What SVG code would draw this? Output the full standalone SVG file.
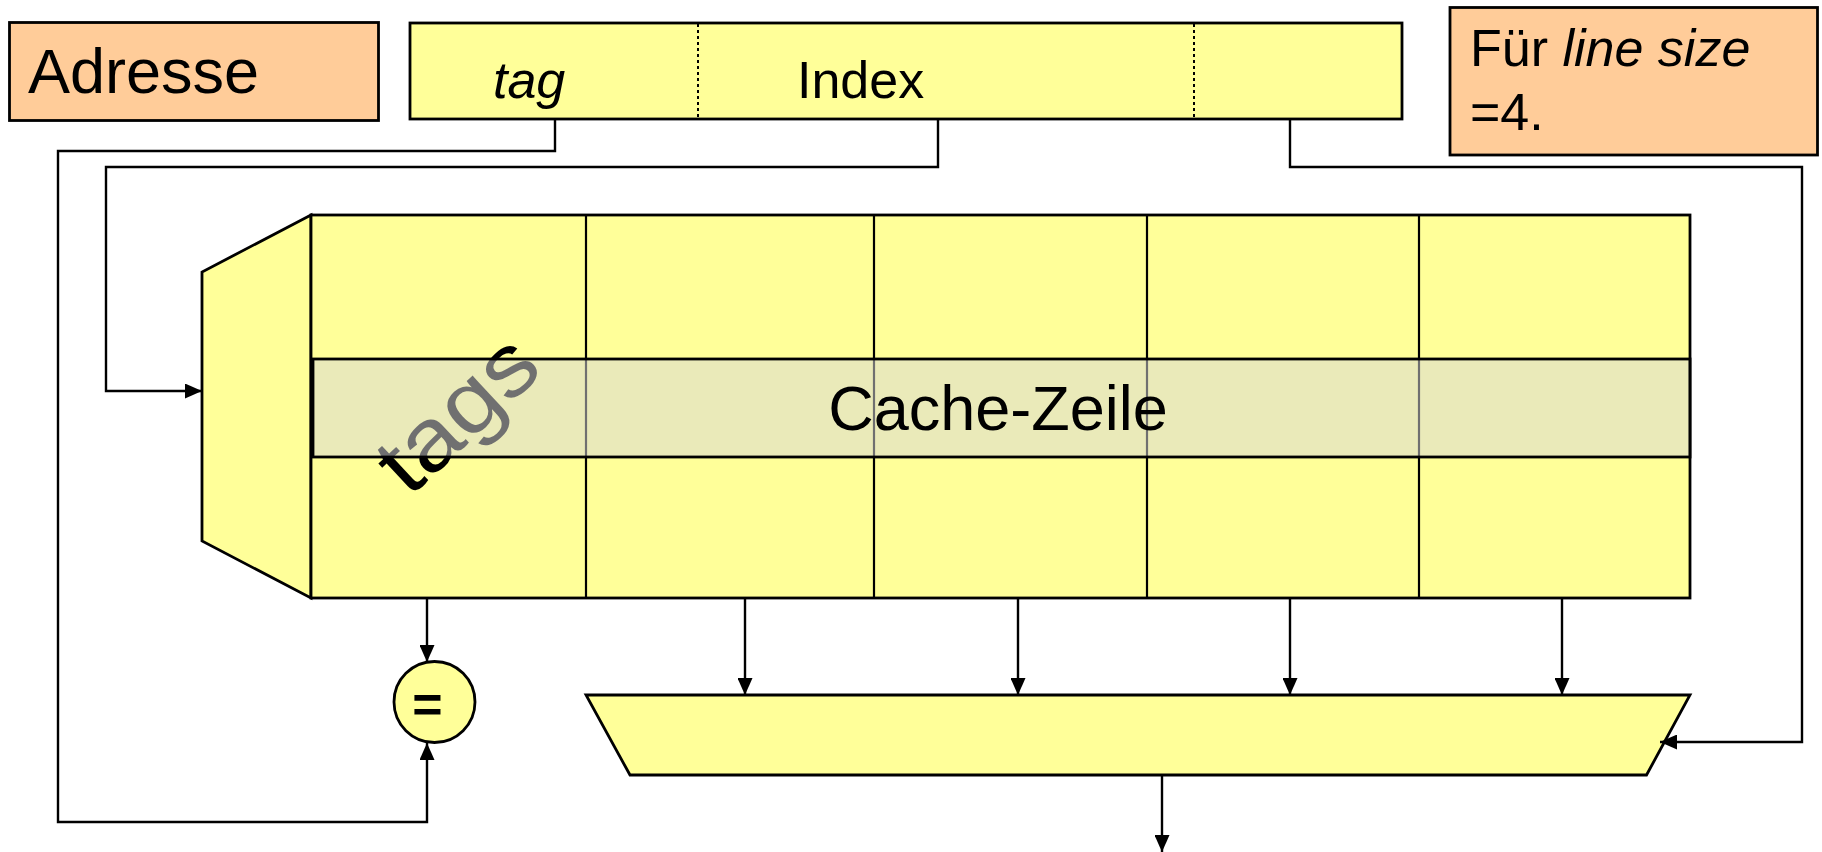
<svg xmlns="http://www.w3.org/2000/svg" width="1822" height="852" viewBox="0 0 1822 852">
  <style>
    .txt { font-family: "Liberation Sans", Arial, sans-serif; fill: #000; }
    .box { stroke: #000; stroke-width: 2.8; }
    .yel { fill: #FFFF99; }
    .peach { fill: #FFCC99; }
    .conn { fill: none; stroke: #000; stroke-width: 2.4; }
    .div { stroke: #000; stroke-width: 2.2; }
  </style>
  <defs>
    <marker id="arr" markerUnits="userSpaceOnUse" markerWidth="17" markerHeight="15" refX="17" refY="7.5" orient="auto">
      <path d="M0,0 L17,7.5 L0,15 z" fill="#000"/>
    </marker>
  </defs>
  <rect width="1822" height="852" fill="#fff"/>

  <g id="adresse-label">
    <rect class="box peach" x="9.5" y="22.5" width="369" height="98"/>
    <text class="txt" x="28" y="93" font-size="63">Adresse</text>
  </g>

  <g id="address-bar">
    <rect class="box yel" x="410" y="23" width="992" height="96"/>
    <line x1="698" y1="24" x2="698" y2="118" stroke="#000" stroke-width="2" stroke-dasharray="3,3"/>
    <line x1="1194" y1="24" x2="1194" y2="118" stroke="#000" stroke-width="2" stroke-dasharray="3,3"/>
    <text class="txt" x="493" y="98" font-size="52" font-style="italic">tag</text>
    <text class="txt" x="797" y="98" font-size="52">Index</text>
  </g>

  <g id="note">
    <rect class="box peach" x="1450" y="7.5" width="367.5" height="147.5"/>
    <text class="txt" x="1470" y="66" font-size="52">Für <tspan font-style="italic">line size</tspan></text>
    <text class="txt" x="1470" y="130" font-size="52">=4.</text>
  </g>

  <g id="decoder">
    <polygon class="box yel" points="311,215 202,272 202,541 311,598"/>
  </g>

  <g id="cache-array">
    <rect class="box yel" x="311" y="215" width="1379" height="383"/>
    <line class="div" x1="586" y1="215" x2="586" y2="598"/>
    <line class="div" x1="874" y1="215" x2="874" y2="598"/>
    <line class="div" x1="1147" y1="215" x2="1147" y2="598"/>
    <line class="div" x1="1419" y1="215" x2="1419" y2="598"/>
    <g id="tags-label" transform="translate(462,419) rotate(-43) scale(1.12,1)">
      <text class="txt" x="0" y="22" font-size="88" text-anchor="middle">tags</text>
    </g>
  </g>

  <g id="cache-line">
    <rect x="313" y="359" width="1377" height="98" fill="#D6D6D6" fill-opacity="0.52" stroke="#000" stroke-width="2.8"/>
    <text class="txt" x="998" y="430" font-size="63" text-anchor="middle">Cache-Zeile</text>
  </g>

  <g id="comparator">
    <circle class="box yel" cx="434.5" cy="702" r="40.5"/>
    <text class="txt" x="427.5" y="722" font-size="52" font-weight="bold" text-anchor="middle">=</text>
  </g>

  <g id="multiplexer">
    <polygon class="box yel" points="586,695 1690,695 1646.5,775 630,775"/>
  </g>

  <g id="connectors">
    <polyline class="conn" points="555,119 555,151 58,151 58,822 427,822 427,743" marker-end="url(#arr)"/>
    <polyline class="conn" points="938,119 938,167 106,167 106,391 202,391" marker-end="url(#arr)"/>
    <polyline class="conn" points="1290,119 1290,167 1802,167 1802,742 1660,742" marker-end="url(#arr)"/>
    <line class="conn" x1="427" y1="598" x2="427" y2="662" marker-end="url(#arr)"/>
    <line class="conn" x1="745" y1="598" x2="745" y2="695" marker-end="url(#arr)"/>
    <line class="conn" x1="1018" y1="598" x2="1018" y2="695" marker-end="url(#arr)"/>
    <line class="conn" x1="1290" y1="598" x2="1290" y2="695" marker-end="url(#arr)"/>
    <line class="conn" x1="1562" y1="598" x2="1562" y2="695" marker-end="url(#arr)"/>
    <line class="conn" x1="1162" y1="775" x2="1162" y2="852" marker-end="url(#arr)"/>
  </g>
</svg>
